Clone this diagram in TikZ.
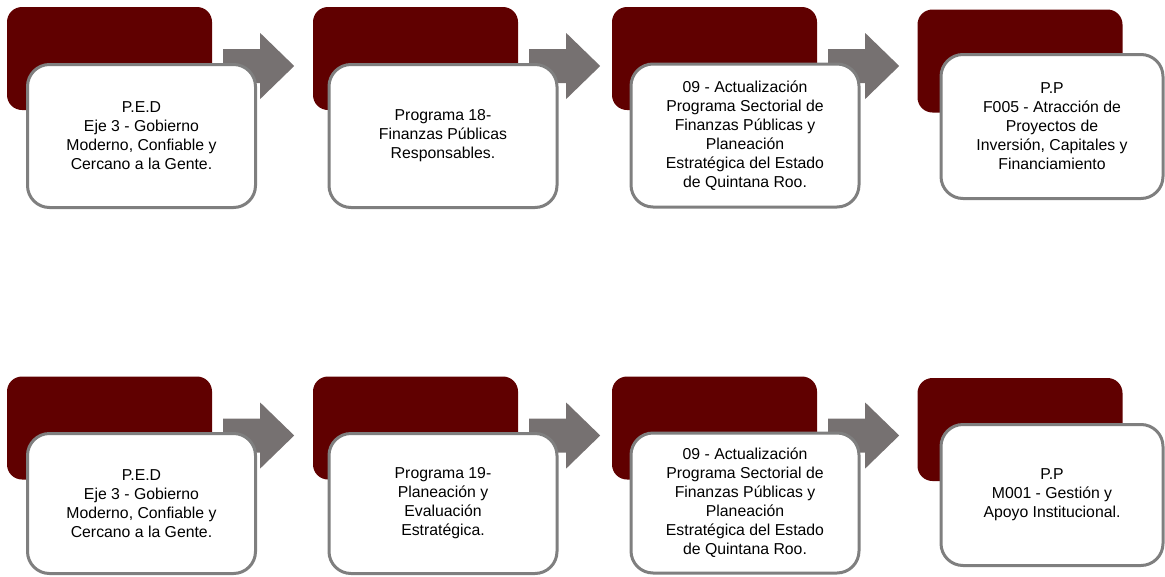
\documentclass[tikz,border=0pt]{standalone}
\usepackage{fontspec}
\setmainfont{Liberation Sans}
\usetikzlibrary{calc}
\definecolor{maroon}{HTML}{600000}
\definecolor{flowgray}{HTML}{767171}
\definecolor{edge}{HTML}{7F7F7F}
\tikzset{
  back/.style={fill=maroon, rounded corners=15pt, minimum width=205pt, minimum height=103pt, inner sep=0pt},
  card/.style={fill=white, draw=edge, line width=3pt, rounded corners=22pt, minimum width=228pt, minimum height=143pt, align=center, inner sep=2pt, font=\fontsize{15.8}{19}\selectfont},
  flow/.style={fill=flowgray},
}
% block arrow leaving the right side of a back box
\newcommand{\blockarrow}[1]{%
  \coordinate (m) at ($(#1.east)+(11,7.5)$);
  \fill[flow] ($(m)+(0,-17)$) -- ++(37,0) -- ++(0,-16) -- ++(34,33) -- ++(-34,33) -- ++(0,-16) -- ++(-37,0) -- cycle;
}

\begin{document}
\begin{tikzpicture}[x=1pt,y=-1pt]
  \useasboundingbox (0,0) rectangle (1165,576);
  % top row
  \node[back] (bA1) at (109.5,58.5) {};
  \node[back] (bA2) at (415.5,58.5) {};
  \node[back] (bA3) at (714.5,58.5) {};
  \node[back] (bA4) at (1020,61) {};
  \blockarrow{bA1}
  \blockarrow{bA2}
  \blockarrow{bA3}
  \node[card] (pedA) at (141.5,136) {P.E.D\\Eje 3 - Gobierno\\Moderno, Confiable y\\Cercano a la Gente.};
  \node[card] (progA) at (443,136) {Programa 18-\\Finanzas Públicas\\Responsables.};
  \node[card] (sectA) at (745,135.5) {09 - Actualización\\Programa Sectorial de\\Finanzas Públicas y\\Planeación\\Estratégica del Estado\\de Quintana Roo.};
  \node[card, minimum width=222pt, minimum height=144pt] (ppA) at (1052,126.5) {P.P\\F005 - Atracción de\\Proyectos de\\Inversión, Capitales y\\Financiamiento};
  % bottom row
  \node[back] (bB1) at (109.5,428) {};
  \node[back] (bB2) at (415.5,428) {};
  \node[back] (bB3) at (714.5,428) {};
  \node[back] (bB4) at (1020,429.5) {};
  \blockarrow{bB1}
  \blockarrow{bB2}
  \blockarrow{bB3}
  \node[card, minimum height=140pt] (pedB) at (141.5,503.5) {P.E.D\\Eje 3 - Gobierno\\Moderno, Confiable y\\Cercano a la Gente.};
  \node[card, minimum height=140pt] (progB) at (443,503.5) {Programa 19-\\Planeación y\\Evaluación\\Estratégica.};
  \node[card, minimum height=140pt] (sectB) at (745,503) {09 - Actualización\\Programa Sectorial de\\Finanzas Públicas y\\Planeación\\Estratégica del Estado\\de Quintana Roo.};
  \node[card, minimum width=222pt, minimum height=141pt] (ppB) at (1052,495) {P.P\\M001 - Gestión y\\Apoyo Institucional.};
\end{tikzpicture}
\end{document}
